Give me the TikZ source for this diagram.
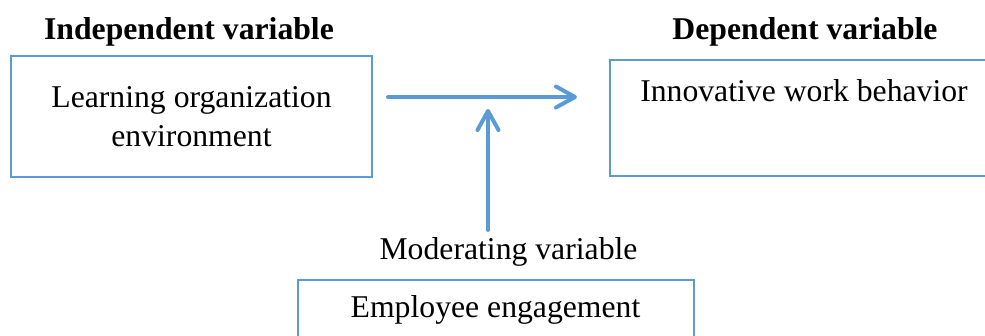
\documentclass[tikz,border=0pt]{standalone}
\usepackage{fontspec}
\setmainfont{Liberation Serif}
\usetikzlibrary{arrows.meta}
\definecolor{lineblue}{HTML}{5B9BD5}
\begin{document}
\begin{tikzpicture}[x=0.5pt,y=-0.5pt,
  box/.style={draw=lineblue,line width=1.4pt,rectangle,inner sep=0pt,outer sep=0pt},
  lbl/.style={anchor=base,inner sep=0pt,font=\fontsize{15.85}{19.5}\selectfont},
  head/.style={lbl,font=\fontsize{15.85}{19.5}\selectfont\bfseries},
  conn/.style={draw=lineblue,line width=2pt,line cap=round,
    -{Straight Barb[length=9.5pt,width=10.5pt,line cap=round,line join=round]}}]
\clip (0,0) rectangle (985,336);
% headings
\node[head] (ivh) at (189,40) {Independent variable};
\node[head] (dvh) at (805,40) {Dependent variable};
% boxes
\node[box,minimum width=180.5pt,minimum height=60.5pt] (iv) at (191.5,116.5) {};
\node[box,minimum width=195pt,minimum height=58pt] (dv) at (805,118) {};
\node[box,minimum width=198pt,minimum height=35pt] (mv) at (496,315) {};
% texts
\node[lbl] (iv1) at (191.5,108) {Learning organization};
\node[lbl] (iv2) at (191.5,147) {environment};
\node[lbl] (dvt) at (804,102) {Innovative work behavior};
\node[lbl] (mvh) at (508.5,260) {Moderating variable};
\node[lbl] (mvt) at (495.5,317) {Employee engagement};
% connectors
\coordinate (hs) at (388,97);
\coordinate (he) at (577,97);
\coordinate (vs) at (488,230);
\coordinate (ve) at (488,109);
\draw[conn] (hs) -- (he);
\draw[conn] (vs) -- (ve);
\end{tikzpicture}
\end{document}
